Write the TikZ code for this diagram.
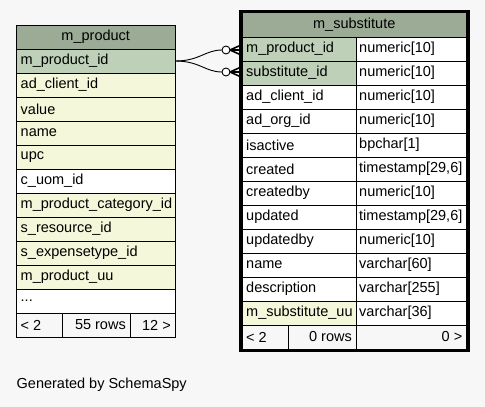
\documentclass[tikz,border=0pt]{standalone}
\usepackage{fontspec}
\setmainfont{Liberation Sans}
\usetikzlibrary{calc}
\definecolor{bgc}{HTML}{F7F7F7}
\definecolor{titc}{HTML}{9CAB96}
\definecolor{keyc}{HTML}{BED1B8}
\definecolor{idxc}{HTML}{F4F7DA}
\definecolor{footc}{HTML}{F7F7F7}
\newcommand{\threedots}{.{}.{}.}
\begin{document}
\begin{tikzpicture}[x=1pt,y=-1pt,
  cell/.style={draw=black,line width=1pt,fill=white},
  keycell/.style={cell,fill=keyc},
  idxcell/.style={cell,fill=idxc},
  titcell/.style={cell,fill=titc},
  footcell/.style={cell,fill=footc},
  txt/.style={anchor=west,inner sep=0pt,font=\fontsize{14.5}{16}\selectfont},
  ctxt/.style={anchor=center,inner sep=0pt,font=\fontsize{14.5}{16}\selectfont},
  rtxt/.style={anchor=east,inner sep=0pt,font=\fontsize{14.5}{16}\selectfont},
  conn/.style={line width=0.9pt}]
\fill[bgc] (0,0) rectangle (485,407);
\useasboundingbox (0,0) rectangle (485,407);
% ---------- m_product ----------
\def\L{16.5}\def\R{175}
\draw[titcell] (\L,25) rectangle (\R,49);
\node[ctxt] (mpt) at ({(\L+\R)/2},37) {m\_product};
\foreach \y/\t/\s [count=\i] in {49/m\_product\_id/keycell,73/ad\_client\_id/idxcell,97/value/idxcell,121/name/idxcell,145/upc/idxcell,169/c\_uom\_id/cell,193/m\_product\_category\_id/idxcell,217/s\_resource\_id/idxcell,241/s\_expensetype\_id/idxcell,265/m\_product\_uu/idxcell,289/\threedots/cell}{
  \draw[\s] (\L,\y) rectangle (\R,\y+24);
  \node[txt] (mp\i) at (\L+4,\y+12) {\t};
}
\coordinate (mpkey) at (\R,61);
\draw[footcell] (\L,313) rectangle (62,337);
\draw[footcell] (62,313) rectangle (130,337);
\draw[footcell] (130,313) rectangle (\R,337);
\node[txt] (mpf1) at (\L+4,325) {< 2};
\node[rtxt] (mpf2) at (126,325) {55 rows};
\node[rtxt] (mpf3) at (\R-4,325) {12 >};
% ---------- m_substitute ----------
\def\A{242}\def\M{356}\def\B{466.5}
\draw[titcell] (\A,12) rectangle (\B,37);
\node[ctxt] (mst) at ({(\A+\B)/2},24.5) {m\_substitute};
\foreach \y/\n/\tp/\s [count=\i] in {37/m\_product\_id/numeric[10]/keycell,61/substitute\_id/numeric[10]/keycell,85/ad\_client\_id/numeric[10]/cell,109/ad\_org\_id/numeric[10]/cell,133/isactive/bpchar[1]/cell,157/created/timestamp[29{,}6]/cell,181/createdby/numeric[10]/cell,205/updated/timestamp[29{,}6]/cell,229/updatedby/numeric[10]/cell,253/name/varchar[60]/cell,277/description/varchar[255]/cell,301/m\_substitute\_uu/varchar[36]/idxcell}{
  \draw[\s] (\A,\y) rectangle (\M,\y+24);
  \draw[cell] (\M,\y) rectangle (\B,\y+24);
  \node[txt] (msn\i) at (\A+4,\y+12) {\n};
  \node[txt] (mst\i) at (\M+3,\y+12) {\tp};
}
\draw[footcell] (\A,325) rectangle (288,349);
\draw[footcell] (288,325) rectangle (\M,349);
\draw[footcell] (\M,325) rectangle (\B,349);
\node[txt] (msf1) at (\A+4,337) {< 2};
\node[rtxt] (msf2) at (\M-4,337) {0 rows};
\node[rtxt] (msf3) at (\B-4,337) {0 >};
\draw[line width=3pt] (240.5,11) rectangle (468,350.5);
% ---------- connectors ----------
\coordinate (c1) at (226,50);
\coordinate (c2) at (226,72);
\draw[conn] (mpkey) .. controls (200,61) and (205,50) .. ($(c1)+(-4,0)$);
\draw[conn] (mpkey) .. controls (200,61) and (205,72) .. ($(c2)+(-4,0)$);
\foreach \c in {c1,c2}{
  \draw[conn,fill=white] (\c) circle (4);
  \draw[line width=1.6pt] ($(\c)+(4,0)$) -- ($(\c)+(14,-4.5)$);
  \draw[line width=1.6pt] ($(\c)+(4,0)$) -- ($(\c)+(14,0)$);
  \draw[line width=1.6pt] ($(\c)+(4,0)$) -- ($(\c)+(14,4.5)$);
}
\node[txt] (gen) at (16.5,385) {Generated by SchemaSpy};
\end{tikzpicture}
\end{document}
